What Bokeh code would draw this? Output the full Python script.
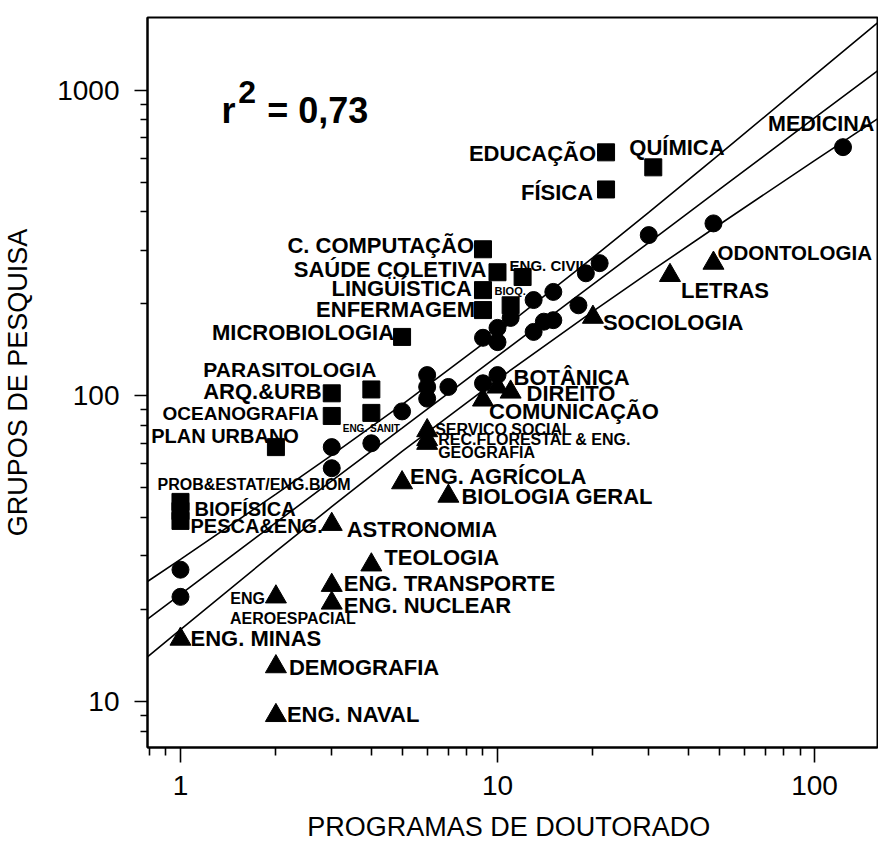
from bokeh.plotting import figure
from bokeh.models import ColumnDataSource, Range1d, FixedTicker, NumeralTickFormatter, Label
from bokeh.core.properties import value, field
from bokeh.embed import file_html
from bokeh.resources import INLINE

# ---------------- data ----------------
# squares (above the band)
sq_names = ["EDUCAÇÃO", "QUÍMICA", "FÍSICA", "C. COMPUTAÇÃO", "SAÚDE COLETIVA",
            "ENG. CIVIL", "LINGÜÍSTICA", "BIOQ.", "ENFERMAGEM", "MICROBIOLOGIA",
            "PARASITOLOGIA", "ARQ.&URB", "ENG. SANIT", "OCEANOGRAFIA", "PLAN URBANO",
            "PROB&ESTAT/ENG.BIOM", "BIOFÍSICA", "PESCA&ENG."]
sq_x = [22, 31, 22, 9, 10, 12, 9, 11, 9, 5, 4, 3, 4, 3, 2, 1, 1, 1]
sq_y = [627, 560, 474, 302, 254, 245, 222, 198, 191, 156, 105, 102, 88, 86, 68, 45, 42, 39]

# circles (inside the band)
ci_x = [1, 1, 3, 3, 4, 5, 6, 6, 6, 7, 9, 10, 9, 10, 10, 11, 13, 13, 14, 15, 15, 18, 19, 21, 30, 48, 123]
ci_y = [27, 22, 68, 58, 70, 89, 117, 107, 98, 107, 110, 117, 155, 167, 150, 180, 162, 206, 175,
        177, 219, 198, 252, 272, 336, 367, 652]
ci_label_name = ["MEDICINA"]
ci_label_x = [123]
ci_label_y = [652]

# triangles (below the band)
tri_names = ["ODONTOLOGIA", "LETRAS", "SOCIOLOGIA", "BOTÂNICA", "DIREITO", "COMUNICAÇÃO",
             "SERVICO SOCIAL", "REC.FLORESTAL & ENG.", "GEOGRAFIA", "ENG. AGRÍCOLA",
             "BIOLOGIA GERAL", "ASTRONOMIA", "TEOLOGIA", "ENG. TRANSPORTE", "ENG. NUCLEAR",
             "ENG AEROESPACIAL", "ENG. MINAS", "DEMOGRAFIA", "ENG. NAVAL"]
tri_x = [48, 35, 20, 10, 11, 9, 6, 6, 6, 5, 7, 3, 4, 3, 3, 2, 1, 2, 2]
tri_y = [272, 248, 181, 107, 103, 97, 77, 72, 70, 52, 47, 38, 28, 24, 21, 22, 16, 13, 9]

# regression line and its band (read at several x positions)
band_x = [0.787, 1, 2, 3, 5, 10, 20, 30, 50, 100, 158]
fit_y = [18.6, 22.4, 38.5, 52.7, 78.5, 134.9, 231.7, 317.6, 473, 813, 1159]
upper_y = [24.7, 29.2, 47.7, 64.0, 93.6, 160.9, 283.8, 398.7, 616.3, 1121, 1664]
lower_y = [14.0, 17.2, 31.0, 43.4, 65.9, 113.1, 189.2, 253.2, 363.3, 589.3, 807]

x_major = [1, 10, 100]
x_minor = [0.8, 0.9, 2, 3, 4, 5, 6, 7, 8, 9, 20, 30, 40, 50, 60, 70, 80, 90]
y_major = [10, 100, 1000]
y_minor = [8, 9, 20, 30, 40, 50, 60, 70, 80, 90, 200, 300, 400, 500, 600, 700, 800, 900]

r2_text = "= 0,73"
x_title = "PROGRAMAS DE  DOUTORADO"
y_title = "GRUPOS DE PESQUISA"

# ---------------- label placement (styles, pixels) ----------------
# name -> (text, dx, dy, align, font size px)
placement = {
    "EDUCAÇÃO": [("EDUCAÇÃO", -10, 1, "right", 22)],
    "QUÍMICA": [("QUÍMICA", -24, -20, "left", 22)],
    "FÍSICA": [("FÍSICA", -13, 3, "right", 22)],
    "C. COMPUTAÇÃO": [("C. COMPUTAÇÃO", -9, -4, "right", 22)],
    "SAÚDE COLETIVA": [("SAÚDE COLETIVA", -11, -3, "right", 22)],
    "ENG. CIVIL": [("ENG. CIVIL", -13, -12, "left", 15)],
    "LINGÜÍSTICA": [("LINGÜÍSTICA", -11, -2, "right", 22)],
    "BIOQ.": [("BIOQ.", -16, -14, "left", 11)],
    "ENFERMAGEM": [("ENFERMAGEM", -8, -1, "right", 22)],
    "MICROBIOLOGIA": [("MICROBIOLOGIA", -8, -4, "right", 22)],
    "PARASITOLOGIA": [("PARASITOLOGIA", 5, -20, "right", 21)],
    "ARQ.&URB": [("ARQ.&URB", -10, -2, "right", 22)],
    "ENG. SANIT": [("ENG. SANIT", 0, 16, "center", 10)],
    "OCEANOGRAFIA": [("OCEANOGRAFIA", -13, -2, "right", 19)],
    "PLAN URBANO": [("PLAN URBANO", 23, -11, "right", 20)],
    "PROB&ESTAT/ENG.BIOM": [("PROB&ESTAT/ENG.BIOM", -23, -17, "left", 16)],
    "BIOFÍSICA": [("BIOFÍSICA", 14, -2, "left", 20)],
    "PESCA&ENG.": [("PESCA&ENG.", 10, 5, "left", 20)],
    "MEDICINA": [("MEDICINA", -75, -23, "left", 21.5)],
    "ODONTOLOGIA": [("ODONTOLOGIA", 4, -11, "left", 20.5)],
    "LETRAS": [("LETRAS", 11, 15, "left", 22)],
    "SOCIOLOGIA": [("SOCIOLOGIA", 10, 5, "left", 22)],
    "BOTÂNICA": [("BOTÂNICA", 16, -9, "left", 22)],
    "DIREITO": [("DIREITO", 16, 1, "left", 22)],
    "COMUNICAÇÃO": [("COMUNICAÇÃO", 6, 12, "left", 22)],
    "SERVICO SOCIAL": [("SERVICO SOCIAL", 8, -1, "left", 16)],
    "REC.FLORESTAL & ENG.": [("REC.FLORESTAL & ENG.", 11, 0, "left", 16)],
    "GEOGRAFIA": [("GEOGRAFIA", 11, 9, "left", 16)],
    "ENG. AGRÍCOLA": [("ENG. AGRÍCOLA", 8, -6, "left", 22)],
    "BIOLOGIA GERAL": [("BIOLOGIA GERAL", 13, 0, "left", 22)],
    "ASTRONOMIA": [("ASTRONOMIA", 15, 5, "left", 22)],
    "TEOLOGIA": [("TEOLOGIA", 13, -7, "left", 22)],
    "ENG. TRANSPORTE": [("ENG. TRANSPORTE", 12, -2, "left", 22)],
    "ENG. NUCLEAR": [("ENG. NUCLEAR", 12, 2, "left", 22)],
    "ENG AEROESPACIAL": [("ENG", -11, 2, "right", 16), ("AEROESPACIAL", -46, 22, "left", 16)],
    "ENG. MINAS": [("ENG. MINAS", 10, -1, "left", 22)],
    "DEMOGRAFIA": [("DEMOGRAFIA", 13, 1, "left", 22)],
    "ENG. NAVAL": [("ENG. NAVAL", 11, -1, "left", 22)],
}

FONT = "Liberation Sans"

p = figure(width=878, height=854, x_axis_type="log", y_axis_type="log",
           x_range=Range1d(0.787, 158), y_range=Range1d(7.07, 1732),
           output_backend="svg", toolbar_location=None,
           min_border_left=145, min_border_right=1, min_border_top=17, min_border_bottom=107)
p.background_fill_color = "white"
p.border_fill_color = "white"
p.outline_line_color = "black"
p.outline_line_width = 2
p.outline_line_alpha = 1
p.xgrid.visible = False
p.ygrid.visible = False

# band lines
for ys in (upper_y, fit_y, lower_y):
    p.line(band_x, ys, line_color="black", line_width=1.6)

# markers
p.scatter(sq_x, sq_y, marker="square", size=17, fill_color="black", line_color="black")
p.scatter(ci_x, ci_y, marker="circle", size=17, fill_color="black", line_color="black")
p.scatter(tri_x, tri_y, marker="triangle", size=21, fill_color="black", line_color="black")

# labels
lab = dict(x=[], y=[], text=[], dx=[], dy=[], align=[], size=[])
for names, xs, ys in ((sq_names, sq_x, sq_y), (tri_names, tri_x, tri_y),
                      (ci_label_name, ci_label_x, ci_label_y)):
    for n, xv, yv in zip(names, xs, ys):
        for (t, dx, dy, al, sz) in placement[n]:
            lab["x"].append(xv)
            lab["y"].append(yv)
            lab["text"].append(t)
            lab["dx"].append(dx)
            lab["dy"].append(dy)
            lab["align"].append(al)
            lab["size"].append(f"{sz}px")
src = ColumnDataSource(lab)
p.text(x="x", y="y", text="text", source=src, x_offset="dx", y_offset="dy",
       text_align=field("align"), text_baseline="middle", text_font_size=field("size"),
       text_font=value(FONT), text_font_style="bold", text_color="black")

# r^2 annotation
p.add_layout(Label(x=1.346, y=860, text="r", text_font=FONT, text_font_style="bold",
                   text_font_size="36px", text_baseline="alphabetic", text_color="black"))
p.add_layout(Label(x=1.522, y=985, text="2", text_font=FONT, text_font_style="bold",
                   text_font_size="32px", text_baseline="alphabetic", text_color="black"))
p.add_layout(Label(x=1.877, y=860, text=r2_text, text_font=FONT, text_font_style="bold",
                   text_font_size="36px", text_baseline="alphabetic", text_color="black"))

# axes
p.xaxis.ticker = FixedTicker(ticks=x_major, minor_ticks=x_minor)
p.yaxis.ticker = FixedTicker(ticks=y_major, minor_ticks=y_minor)
p.xaxis.formatter = NumeralTickFormatter(format="0")
p.yaxis.formatter = NumeralTickFormatter(format="0")
for ax in (p.xaxis[0], p.yaxis[0]):
    ax.axis_line_color = "black"
    ax.axis_line_width = 2
    ax.major_tick_in = 0
    ax.minor_tick_in = 0
    ax.major_tick_line_width = 1.6
    ax.minor_tick_line_width = 1.6
    ax.major_tick_line_color = "black"
    ax.minor_tick_line_color = "black"
    ax.major_label_text_font = FONT
    ax.major_label_text_font_size = "28px"
    ax.major_label_text_color = "black"
    ax.axis_label_text_font = FONT
    ax.axis_label_text_font_size = "27px"
    ax.axis_label_text_font_style = "normal"
    ax.axis_label_text_color = "black"

p.xaxis.major_tick_out = 15
p.xaxis.minor_tick_out = 8
p.yaxis.major_tick_out = 13
p.yaxis.minor_tick_out = 7
p.xaxis.major_label_standoff = 13
p.yaxis.major_label_standoff = 15
p.xaxis.axis_label = x_title
p.xaxis.axis_label_standoff = 14
p.yaxis.axis_label = y_title
p.yaxis.axis_label_standoff = 21

open("out.html", "w").write(file_html(p, INLINE))
